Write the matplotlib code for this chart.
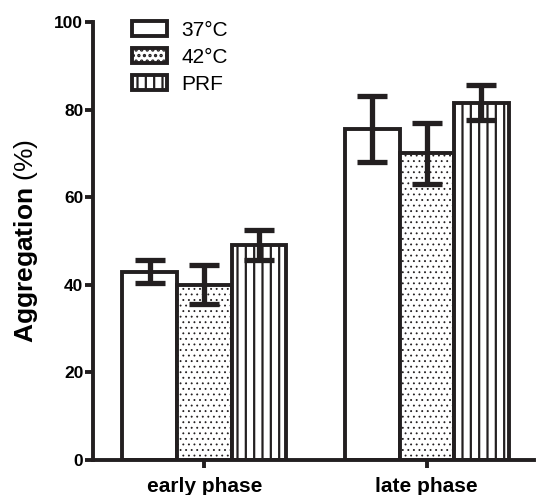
import matplotlib
matplotlib.use("Agg")
import matplotlib.pyplot as plt
import numpy as np

plt.rcParams['font.family'] = ['Liberation Sans', 'DejaVu Sans']
plt.rcParams['mathtext.fontset'] = 'custom'
plt.rcParams['mathtext.bf'] = 'Liberation Sans:bold'
plt.rcParams['mathtext.rm'] = 'Liberation Sans'
plt.rcParams['hatch.linewidth'] = 1.6

groups = ['early phase', 'late phase']
series = ['37°C', '42°C', 'PRF']
means = [[43.0, 75.5], [40.0, 70.0], [49.0, 81.5]]
errs = [[2.6, 7.5], [4.4, 7.0], [3.4, 4.0]]
hatches = ['', '...', '||']
hatch_lw = [1.0, 0.6, 1.6]

fig = plt.figure(figsize=(5.36, 4.95), dpi=100)
ax = fig.add_axes([0.1735, 0.0707, 0.822, 0.885])

x = np.arange(len(groups))
w = 0.245
for i in range(len(series)):
    bars = ax.bar(x + (i - 1) * w, means[i], w, color='white', edgecolor='#231f20',
                  linewidth=2.8, hatch=hatches[i], label=series[i], zorder=2)
    for b in bars:
        if hasattr(b, 'set_hatch_linewidth'):
            b.set_hatch_linewidth(hatch_lw[i])
    ax.errorbar(x + (i - 1) * w, means[i], yerr=errs[i], fmt='none',
                ecolor='#231f20', elinewidth=3.8, capsize=11, capthick=3.8, zorder=3)

ax.set_xlim(-0.5, 1.48)
ax.set_ylim(0, 100)
ax.set_yticks([0, 20, 40, 60, 80, 100])
ax.set_xticks(x)
ax.set_xticklabels(groups, fontsize=15, fontweight='bold')
for lab in ax.get_yticklabels():
    lab.set_fontsize(12.5)
    lab.set_fontweight('bold')
ax.set_ylabel(r'$\bf{Aggregation}$ (%)', fontsize=19, labelpad=10)

for s in ['top', 'right']:
    ax.spines[s].set_visible(False)
for s in ['left', 'bottom']:
    ax.spines[s].set_linewidth(2.8)
    ax.spines[s].set_color('#231f20')
ax.tick_params(width=2.8, length=6, color='#231f20', pad=1)
ax.tick_params(axis='x', pad=6)

leg = ax.legend(loc='upper left', bbox_to_anchor=(0.045, 1.045), frameon=False,
                fontsize=15, handlelength=1.7, handleheight=0.75, handletextpad=0.7,
                labelspacing=0.38)

fig.savefig('out.png', dpi=100)
